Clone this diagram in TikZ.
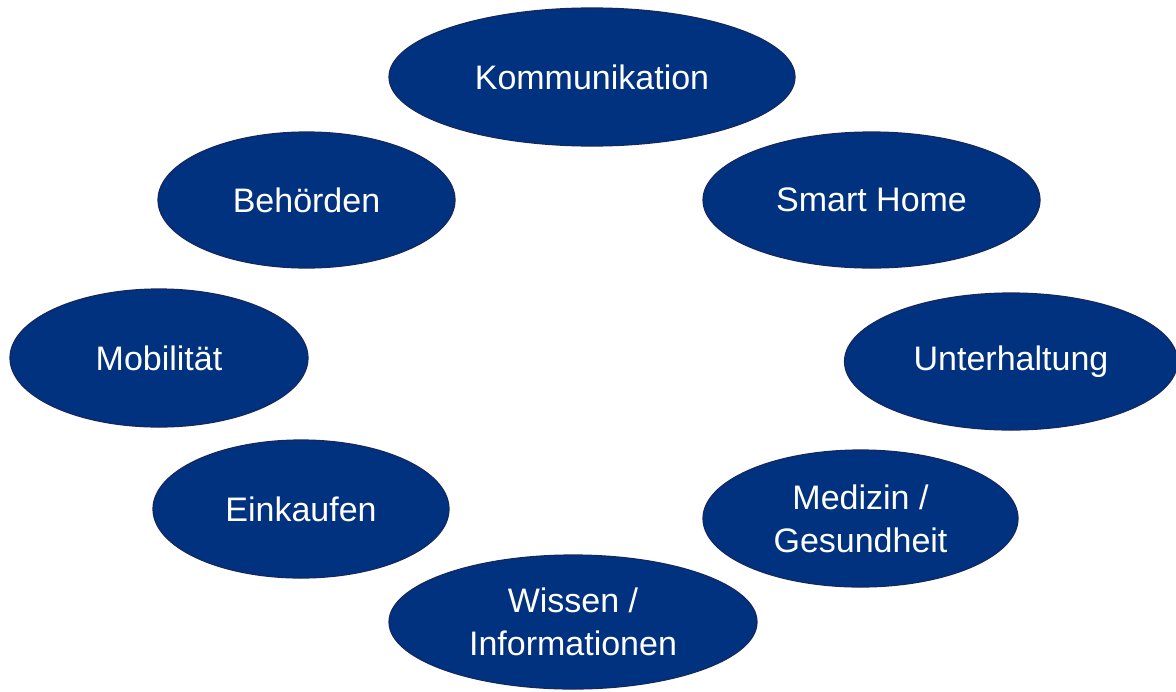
\documentclass[tikz,border=0pt]{standalone}
\usepackage{fontspec}
\setmainfont{Liberation Sans}
\usetikzlibrary{shapes}

\definecolor{navy}{RGB}{0,50,128}
\definecolor{navyline}{RGB}{20,40,95}

\begin{document}
\begin{tikzpicture}[x=0.5pt,y=-0.5pt,
		topic/.style={ellipse,fill=navy,draw=navyline,line width=0.6pt,inner sep=0pt,
			text=white,align=center,font=\fontsize{17}{21.5}\selectfont}]
				\useasboundingbox (0,0) rectangle (1176,691);
				\node[topic,minimum width=203pt,minimum height=69pt] (A) at (592,77) {Kommunikation};
				\node[topic,minimum width=168.5pt,minimum height=68pt] (B) at (871.5,200) {Smart Home};
				\node[topic,minimum width=166.5pt,minimum height=68.5pt] (C) at (1011,361.5) {Unterhaltung};
				\node[topic,minimum width=157.5pt,minimum height=68.5pt] (D) at (860.5,518.5) {Medizin /\\Gesundheit};
				\node[topic,minimum width=184pt,minimum height=67pt] (E) at (573,622) {Wissen /\\Informationen};
				\node[topic,minimum width=148pt,minimum height=69pt] (F) at (301,509) {Einkaufen};
				\node[topic,minimum width=149pt,minimum height=69pt] (G) at (159,358) {Mobilität};
				\node[topic,minimum width=148.5pt,minimum height=68pt] (H) at (306.5,200) {Behörden};
			\end{tikzpicture}
\end{document}
